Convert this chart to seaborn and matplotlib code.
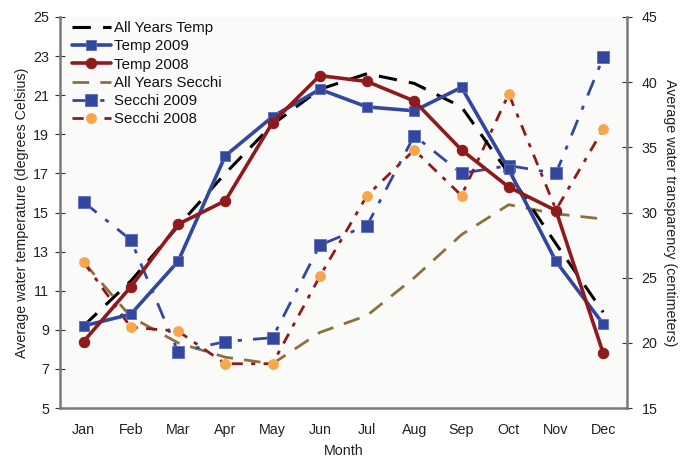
import matplotlib
matplotlib.use("Agg")
import matplotlib.pyplot as plt
import seaborn as sns
import pandas as pd
import numpy as np
from matplotlib.ticker import FixedLocator, NullFormatter

months = ["Jan", "Feb", "Mar", "Apr", "May", "Jun", "Jul", "Aug", "Sep", "Oct", "Nov", "Dec"]
all_years_temp = [9.2, 11.5, 14.3, 17.0, 19.5, 21.3, 22.1, 21.6, 20.4, 17.0, 13.4, 9.9]
temp_2009 = [9.2, 9.8, 12.5, 17.9, 19.9, 21.3, 20.4, 20.2, 21.4, 17.2, 12.5, 9.3]
temp_2008 = [8.4, 11.2, 14.4, 15.6, 19.6, 22.0, 21.7, 20.7, 18.2, 16.3, 15.1, 7.8]
all_years_secchi = [26.2, 22.0, 20.0, 18.9, 18.4, 20.8, 22.1, 25.0, 28.3, 30.6, 29.9, 29.5]
secchi_2009 = [30.8, 27.9, 19.3, 20.1, 20.4, 27.5, 29.0, 35.9, 33.0, 33.6, 33.0, 41.9]
secchi_2008 = [26.2, 21.2, 20.9, 18.4, 18.4, 25.1, 31.3, 34.8, 31.3, 39.1, 30.2, 36.4]

sns.set_style("white")
plt.rcParams['font.family'] = ['Liberation Sans', 'DejaVu Sans']

blue = "#3347a0"
red = "#8e1a1c"
orange = "#f9a64a"
brown = "#8c7140"
fs = 10.3

x = np.arange(12)
fig = plt.figure(figsize=(6.83, 4.58), dpi=100)
ax = fig.add_axes([0.0878, 0.109, 0.830, 0.854])
ax2 = ax.twinx()
ax.set_zorder(2)
ax.patch.set_visible(False)
ax2.patch.set_visible(True)
ax2.patch.set_facecolor("#fafaf9")

# Secchi on right axis
sns.lineplot(x=x, y=all_years_secchi, ax=ax2, color=brown, lw=2.0, label="All Years Secchi")
ax2.lines[-1].set_dashes([6, 4])
sns.lineplot(x=x, y=secchi_2009, ax=ax2, color=blue, lw=2.0, marker="s", markersize=9,
             markeredgecolor="#5a6db8", markeredgewidth=0.6, label="Secchi 2009")
ax2.lines[-1].set_dashes([6, 4, 1.5, 4])
sns.lineplot(x=x, y=secchi_2008, ax=ax2, color=red, lw=2.0, marker="o", markersize=7,
             markerfacecolor=orange, markeredgecolor=orange, label="Secchi 2008")
ax2.lines[-1].set_dashes([4, 3, 1.5, 3])

# Temperature on left axis
sns.lineplot(x=x, y=all_years_temp, ax=ax, color="black", lw=2.2, label="All Years Temp")
ax.lines[-1].set_dashes([6, 4])
sns.lineplot(x=x, y=temp_2009, ax=ax, color=blue, lw=2.6, marker="s", markersize=7.5,
             markeredgecolor="#5a6db8", markeredgewidth=0.6, label="Temp 2009")
sns.lineplot(x=x, y=temp_2008, ax=ax, color=red, lw=2.6, marker="o", markersize=7.5,
             markeredgecolor=red, label="Temp 2008")

ax.set_xlim(-0.5, 11.5)
ax.set_ylim(5, 25)
ax2.set_ylim(15, 45)
ax.set_yticks(np.arange(5, 26, 2))
ax2.set_yticks(np.arange(15, 46, 5))

ax.xaxis.set_major_locator(FixedLocator(np.arange(-0.5, 12, 1)))
ax.xaxis.set_major_formatter(NullFormatter())
ax.xaxis.set_minor_locator(FixedLocator(x))
ax.set_xticklabels(months, minor=True)
ax.tick_params(axis="x", which="minor", length=0, pad=11, labelsize=fs, colors="#222222")
ax.tick_params(axis="x", which="major", direction="inout", length=7, width=0.8, color="#333333")
ax.tick_params(axis="y", direction="inout", length=7, width=0.8, color="#333333", labelsize=fs, labelcolor="#222222", pad=4.5)
ax2.tick_params(axis="y", direction="inout", length=7, width=0.8, color="#333333", labelsize=fs, labelcolor="#222222", pad=7)

for a in (ax, ax2):
    a.spines["top"].set_visible(False)
    for s in ("left", "right", "bottom"):
        a.spines[s].set_color("#7a7a7a")
        a.spines[s].set_linewidth(1.8)
ax.spines["right"].set_visible(False)
ax2.spines["left"].set_visible(False)
ax2.spines["bottom"].set_visible(False)

ax.set_xlabel("Month", fontsize=fs, color="#222222", labelpad=5)
ax.set_ylabel("Average water temperature (degrees Celsius)", fontsize=fs, color="#222222", labelpad=3)
ax2.set_ylabel("Average water transparency (centimeters)", fontsize=fs, color="#222222",
               rotation=270, labelpad=14)

h1, l1 = ax.get_legend_handles_labels()
h2, l2 = ax2.get_legend_handles_labels()
if ax2.get_legend():
    ax2.get_legend().remove()
leg = ax.legend(h1 + h2, l1 + l2, loc="upper left", frameon=False, fontsize=10.8,
                handlelength=2.6, handletextpad=0.2, labelspacing=0.28,
                borderaxespad=0.2, bbox_to_anchor=(0.005, 1.012))
for t in leg.get_texts():
    t.set_color("#111111")

fig.savefig("out.png", dpi=100)
